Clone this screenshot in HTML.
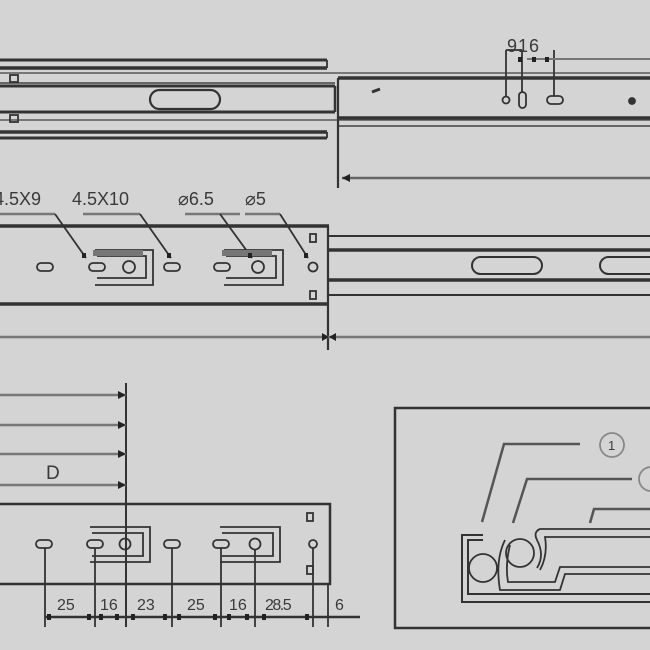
<!DOCTYPE html>
<html><head><meta charset="utf-8"><style>
html,body{margin:0;padding:0;background:#d4d4d4;}
svg{display:block;}
text{font-family:"Liberation Sans",sans-serif;fill:#3a3a3a;}
</style></head><body>
<svg width="650" height="650" viewBox="0 0 650 650" xmlns="http://www.w3.org/2000/svg">
<rect width="650" height="650" fill="#d4d4d4"/>
<g stroke="#333" fill="none" stroke-width="1.8">
<!-- TOP SLIDE -->
<line x1="0" y1="60" x2="327" y2="60" stroke-width="3"/>
<line x1="0" y1="68" x2="327" y2="68" stroke-width="3.5"/>
<line x1="327" y1="60" x2="327" y2="68"/>
<line x1="0" y1="73" x2="650" y2="73" stroke="#777" stroke-width="2"/>
<line x1="0" y1="83" x2="335" y2="83" stroke="#666" stroke-width="2"/>
<line x1="0" y1="86" x2="335" y2="86" stroke-width="3"/>
<line x1="0" y1="112" x2="335" y2="112" stroke-width="3"/>
<line x1="335" y1="86" x2="335" y2="112" stroke-width="2.5"/>
<line x1="0" y1="120" x2="650" y2="120" stroke="#777" stroke-width="2"/>
<line x1="0" y1="132" x2="327" y2="132" stroke-width="3.5"/>
<line x1="0" y1="138" x2="327" y2="138" stroke-width="3"/>
<line x1="327" y1="132" x2="327" y2="138"/>
<rect x="10" y="75" width="8" height="7"/>
<rect x="10" y="115" width="8" height="7"/>
<rect x="150" y="90" width="70" height="19" rx="9.5" stroke-width="2.2"/>
<line x1="338" y1="78" x2="650" y2="78" stroke-width="3.5"/>
<line x1="338" y1="118" x2="650" y2="118" stroke-width="3.5"/>
<line x1="338" y1="126" x2="650" y2="126" stroke="#666" stroke-width="2"/>
<line x1="338" y1="78" x2="338" y2="188" stroke-width="2.2"/>
<line x1="372" y1="92" x2="380" y2="89" stroke-width="3"/>
<circle cx="506" cy="100" r="3.5"/>
<rect x="519" y="92" width="7" height="16" rx="3.5"/>
<rect x="547" y="96" width="16" height="8" rx="4"/>
<circle cx="632" cy="101" r="3" fill="#333"/>
<line x1="506" y1="50" x2="506" y2="97"/>
<line x1="522" y1="50" x2="522" y2="92"/>
<line x1="554" y1="50" x2="554" y2="96"/>
<line x1="506" y1="50" x2="522" y2="50"/>
<line x1="527" y1="59" x2="650" y2="59" stroke="#777" stroke-width="2"/>
<line x1="342" y1="178" x2="650" y2="178" stroke="#666" stroke-width="2.5"/>
<!-- MIDDLE -->
<line x1="0" y1="214" x2="55" y2="214" stroke="#777" stroke-width="2.5"/>
<line x1="83" y1="214" x2="140" y2="214" stroke="#777" stroke-width="2.5"/>
<line x1="185" y1="214" x2="240" y2="214" stroke="#777" stroke-width="2.5"/>
<line x1="245" y1="214" x2="280" y2="214" stroke="#777" stroke-width="2.5"/>
<line x1="55" y1="214" x2="86" y2="258"/>
<line x1="140" y1="214" x2="171" y2="258"/>
<line x1="220" y1="214" x2="252" y2="258"/>
<line x1="280" y1="214" x2="308" y2="258"/>
<line x1="0" y1="226" x2="329" y2="226" stroke-width="3.5"/>
<line x1="0" y1="304" x2="329" y2="304" stroke-width="3.5"/>
<line x1="328" y1="226" x2="328" y2="350" stroke-width="2.2"/>
<line x1="329" y1="236" x2="650" y2="236" stroke-width="2"/>
<line x1="329" y1="250" x2="650" y2="250" stroke-width="3.5"/>
<line x1="329" y1="280" x2="650" y2="280" stroke-width="3.5"/>
<line x1="329" y1="295" x2="650" y2="295" stroke-width="2"/>
<rect x="472" y="257" width="70" height="17" rx="8.5" stroke-width="2"/>
<rect x="600" y="257" width="70" height="17" rx="8.5" stroke-width="2"/>
<rect x="37" y="263" width="16" height="8" rx="4"/>
<path d="M95 250 H153 V285 H95 M97 256 H146 V278 H97"/>
<rect x="93" y="250" width="50" height="6" fill="#777" stroke="none"/>
<rect x="89" y="263" width="16" height="8" rx="4"/>
<circle cx="129" cy="267" r="6"/>
<rect x="164" y="263" width="16" height="8" rx="4"/>
<path d="M224 250 H283 V285 H224 M226 256 H276 V278 H226"/>
<rect x="222" y="250" width="50" height="6" fill="#777" stroke="none"/>
<rect x="214" y="263" width="16" height="8" rx="4"/>
<circle cx="258" cy="267" r="6"/>
<circle cx="313" cy="267" r="4.5"/>
<rect x="310" y="234" width="6" height="8"/>
<rect x="310" y="291" width="6" height="8"/>
<line x1="0" y1="337" x2="650" y2="337" stroke="#777" stroke-width="2.5"/>
<!-- BOTTOM -->
<line x1="126" y1="383" x2="126" y2="627" stroke-width="2"/>
<line x1="0" y1="395" x2="126" y2="395" stroke="#777" stroke-width="2.5"/>
<line x1="0" y1="425" x2="126" y2="425" stroke="#777" stroke-width="2.5"/>
<line x1="0" y1="454" x2="126" y2="454" stroke="#777" stroke-width="2.5"/>
<line x1="0" y1="485" x2="126" y2="485" stroke="#777" stroke-width="2.5"/>
<path d="M0 504 H330 V584 H0" stroke-width="2.5"/>
<path d="M90 527 H150 V562 H90 M92 533 H143 V556 H92"/>
<path d="M220 527 H280 V562 H220 M222 533 H273 V556 H222"/>
<rect x="36" y="540" width="16" height="8" rx="4"/>
<rect x="87" y="540" width="16" height="8" rx="4"/>
<circle cx="125" cy="544" r="5.5"/>
<rect x="164" y="540" width="16" height="8" rx="4"/>
<rect x="213" y="540" width="16" height="8" rx="4"/>
<circle cx="255" cy="544" r="5.5"/>
<circle cx="313" cy="544" r="4"/>
<rect x="307" y="513" width="6" height="8"/>
<rect x="307" y="566" width="6" height="8"/>
<line x1="45" y1="548" x2="45" y2="627"/>
<line x1="95" y1="548" x2="95" y2="627"/>
<line x1="172" y1="548" x2="172" y2="627"/>
<line x1="221" y1="548" x2="221" y2="627"/>
<line x1="255" y1="550" x2="255" y2="627"/>
<line x1="313" y1="548" x2="313" y2="627"/>
<line x1="328" y1="584" x2="328" y2="627"/>
<line x1="45" y1="617" x2="360" y2="617" stroke-width="2.5"/>
<!-- BOX -->
<rect x="395" y="408" width="270" height="220" stroke-width="2.5"/>
<path d="M482 522 L504 444 H580" stroke="#555" stroke-width="2.5"/>
<path d="M513 523 L527 479 H632" stroke="#555" stroke-width="2.5"/>
<path d="M590 523 L594 509 H650" stroke="#555" stroke-width="2.5"/>
<circle cx="612" cy="445" r="12" stroke="#888"/>
<circle cx="651" cy="479" r="12" stroke="#888"/>
<path d="M483 535 H462 V602 H650" stroke-width="2"/>
<path d="M483 540 H468 V594 H650" stroke-width="2"/>
<circle cx="483" cy="568" r="14"/>
<circle cx="520" cy="553" r="14"/>
<path d="M650 529 H540 Q533 532 537 540 Q545 555 537 568"/>
<path d="M650 537 H545 Q548 555 540 570"/>
<path d="M505 540 Q495 560 500 590 H560 L565 574 H650"/>
<path d="M510 545 Q505 565 508 582 H555 L560 567 H650"/>
</g>
<g fill="#222">
<path d="M322 333 L329 337 L322 341Z"/><path d="M336 333 L329 337 L336 341Z"/>
<path d="M350 174 L342 178 L350 182Z"/>
<path d="M118 391 L126 395 L118 399Z"/><path d="M118 421 L126 425 L118 429Z"/>
<path d="M118 450 L126 454 L118 458Z"/><path d="M118 481 L126 485 L118 489Z"/>
<rect x="518" y="57" width="4" height="5"/><rect x="532" y="57" width="4" height="5"/><rect x="545" y="57" width="4" height="5"/>
<rect x="82" y="253" width="4" height="5"/><rect x="167" y="253" width="4" height="5"/><rect x="248" y="253" width="4" height="5"/><rect x="304" y="253" width="4" height="5"/>
<rect x="47" y="614" width="4" height="6"/><rect x="87" y="614" width="4" height="6"/><rect x="99" y="614" width="4" height="6"/><rect x="115" y="614" width="4" height="6"/>
<rect x="131" y="614" width="4" height="6"/><rect x="163" y="614" width="4" height="6"/><rect x="177" y="614" width="4" height="6"/><rect x="213" y="614" width="4" height="6"/>
<rect x="227" y="614" width="4" height="6"/><rect x="245" y="614" width="4" height="6"/><rect x="262" y="614" width="4" height="6"/><rect x="305" y="614" width="4" height="6"/>
</g>
<g font-size="18">
<text x="-6" y="205">4.5X9</text>
<text x="72" y="205">4.5X10</text>
<text x="178" y="205">⌀6.5</text>
<text x="245" y="205">⌀5</text>
<text x="46" y="479" font-size="19">D</text>
<text x="507" y="52" font-size="18" letter-spacing="1">916</text>
</g>
<g font-size="16">
<text x="57" y="610">25</text><text x="100" y="610">16</text><text x="137" y="610">23</text>
<text x="187" y="610">25</text><text x="229" y="610">16</text><text x="265" y="610" letter-spacing="-1.5">28.5</text>
<text x="335" y="610">6</text>
</g>
<text x="608" y="450" font-size="13" fill="#666">1</text>
</svg>
</body></html>
